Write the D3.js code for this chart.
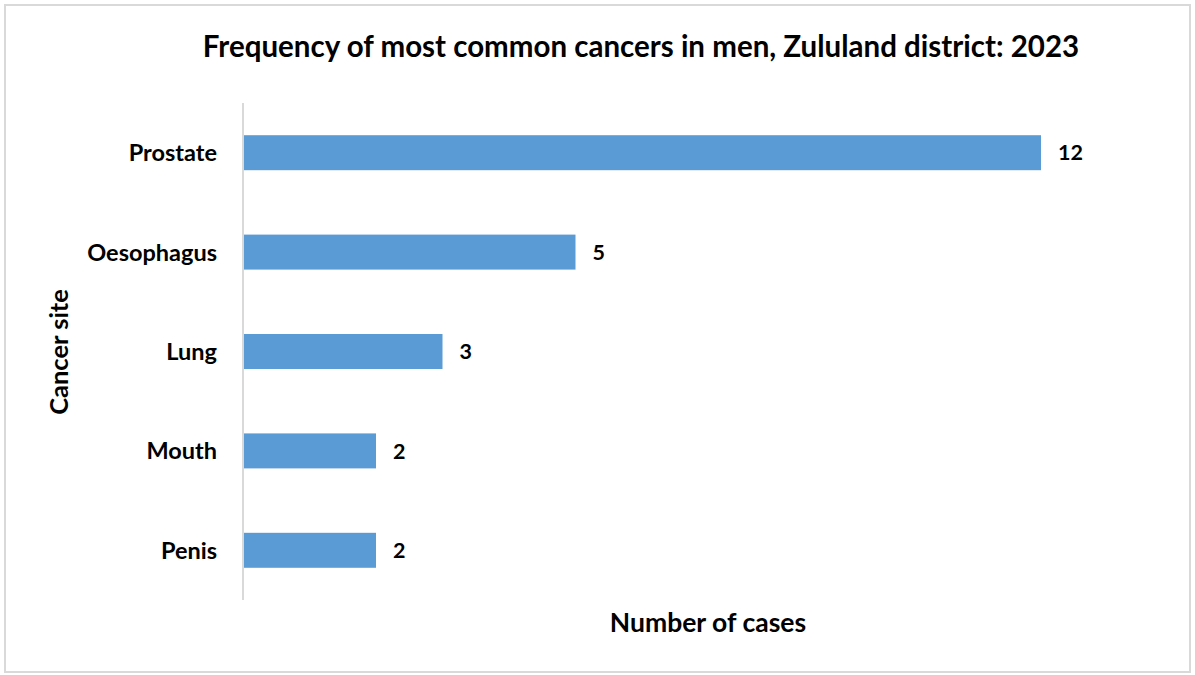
<!DOCTYPE html>
<html>
<head>
<meta charset="utf-8">
<script src="https://cdn.jsdelivr.net/npm/d3@7"></script>
<style>
  body { margin: 0; background: #fff; }
  text { font-family: Lato, "Open Sans", sans-serif; font-weight: bold; fill: #000; }
</style>
</head>
<body>
<script>
var width = 1195,
    height = 675;

// chart data
var sites = ["Prostate", "Oesophagus", "Lung", "Mouth", "Penis"];
var cases = [12, 5, 3, 2, 2];

var svg = d3.select("body").append("svg")
    .attr("width", width)
    .attr("height", height);

// outer frame
svg.append("rect")
    .attr("x", 5).attr("y", 5)
    .attr("width", 1185).attr("height", 667)
    .attr("fill", "#fff")
    .attr("stroke", "#d9d9d9")
    .attr("stroke-width", 2);

var x = d3.scaleLinear().domain([0, 12]).range([243, 1041]);
var y = d3.scaleBand().domain(sites).range([103, 600])
    .paddingInner(0.648).paddingOuter(0.324);

// bars
svg.append("g").selectAll("rect")
    .data(sites)
    .enter().append("rect")
    .attr("x", x(0))
    .attr("y", function(d) { return y(d); })
    .attr("width", function(d, i) { return x(cases[i]) - x(0); })
    .attr("height", y.bandwidth())
    .attr("fill", "#5b9bd5");

// value labels
svg.append("g").selectAll("text")
    .data(sites)
    .enter().append("text")
    .attr("x", function(d, i) { return x(cases[i]) + 17; })
    .attr("y", function(d) { return y(d) + y.bandwidth() / 2; })
    .attr("dy", "0.36em")
    .style("font-size", "21.5px")
    .text(function(d, i) { return cases[i]; });

// category axis
var yAxis = svg.append("g")
    .attr("transform", "translate(" + x(0) + ",0)")
    .call(d3.axisLeft(y).tickSize(0).tickPadding(26));
yAxis.select(".domain").attr("stroke", "#d9d9d9").attr("stroke-width", 2)
    .attr("d", "M0,103V600");
yAxis.selectAll("text")
    .attr("dy", "0.36em")
    .style("font-size", "23.5px")
    .style("font-family", "Lato, 'Open Sans', sans-serif")
    .style("font-weight", "bold");

// title
svg.append("text")
    .attr("x", 641).attr("y", 57)
    .attr("text-anchor", "middle")
    .style("font-size", "29.5px")
    .text("Frequency of most common cancers in men, Zululand district: 2023");

// axis titles
svg.append("text")
    .attr("x", 708).attr("y", 632)
    .attr("text-anchor", "middle")
    .style("font-size", "26.5px")
    .text("Number of cases");

svg.append("text")
    .attr("transform", "translate(68,352) rotate(-90)")
    .attr("text-anchor", "middle")
    .style("font-size", "25.5px")
    .text("Cancer site");
</script>
</body>
</html>
